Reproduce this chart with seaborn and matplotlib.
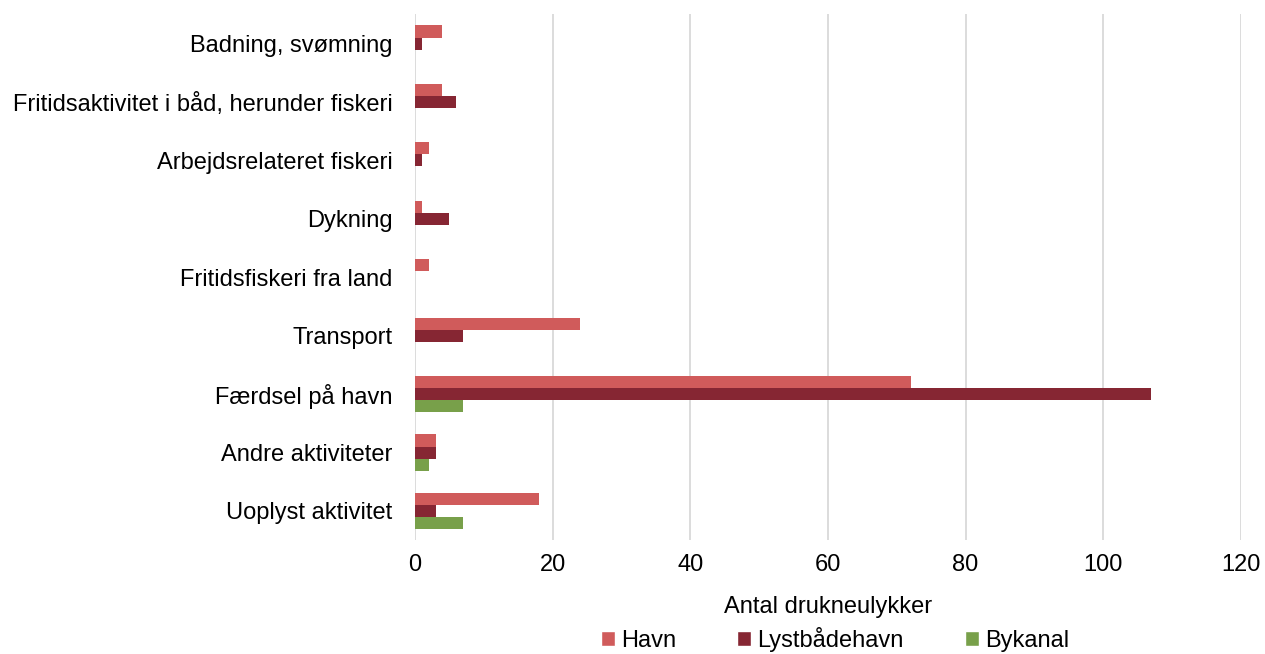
import numpy as np
import pandas as pd
import matplotlib.pyplot as plt
import seaborn as sns
from matplotlib.patches import Patch

# data
kategorier = ['Badning, svømning', 'Fritidsaktivitet i båd, herunder fiskeri',
              'Arbejdsrelateret fiskeri', 'Dykning', 'Fritidsfiskeri fra land',
              'Transport', 'Færdsel på havn', 'Andre aktiviteter', 'Uoplyst aktivitet']
havn = [4, 4, 2, 1, 2, 24, 72, 3, 18]
lystbaadehavn = [1, 6, 1, 5, 0, 7, 107, 3, 3]
bykanal = [0, 0, 0, 0, 0, 0, 7, 2, 7]
serier = ['Havn', 'Lystbådehavn', 'Bykanal']
farver = ['#D05B5B', '#862633', '#78A04A']
xticks = [0, 20, 40, 60, 80, 100, 120]

df = pd.DataFrame({'Aktivitet': kategorier * 3,
                   'Antal': havn + lystbaadehavn + bykanal,
                   'Sted': [s for s in serier for _ in kategorier]})

sns.set_theme(style='white')
plt.rcParams['font.family'] = ['Liberation Sans', 'DejaVu Sans']
plt.rcParams['text.color'] = 'black'

fig = plt.figure(figsize=(12.65, 6.54), dpi=100)
ax = fig.add_axes([0.328, 0.174, 0.653, 0.804])

sns.barplot(data=df, y='Aktivitet', x='Antal', hue='Sted', order=kategorier,
            hue_order=serier, palette=farver, orient='h', width=0.62,
            saturation=1, legend=False, linewidth=0, ax=ax)

ax.set_xlim(0, 120)
ax.set_xticks(xticks)
ax.tick_params(axis='both', length=0, labelsize=17, colors='black')
ax.tick_params(axis='y', pad=16)
ax.tick_params(axis='x', pad=10)
ax.xaxis.grid(True, color='#D9D9D9', linewidth=1.3)
ax.set_axisbelow(True)
for s in ax.spines.values():
    s.set_visible(False)
ax.set_ylabel('')
ax.set_xlabel('Antal drukneulykker', fontsize=17, color='black', labelpad=14)

handles = [Patch(facecolor=c, label=s) for s, c in zip(serier, farver)]
fig.legend(handles=handles, loc='center', bbox_to_anchor=(0.66, 0.022), ncol=3,
           frameon=False, fontsize=17, handlelength=0.6, handleheight=0.6,
           handletextpad=0.25, columnspacing=2.6, borderpad=0.1)

plt.savefig('out.png', dpi=100)
